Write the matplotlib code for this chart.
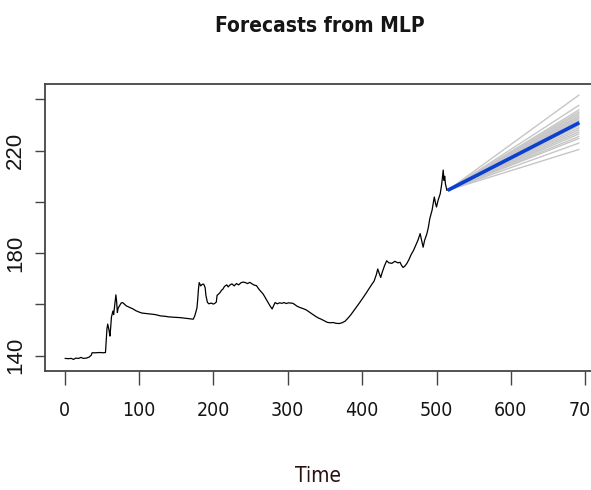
import numpy as np
import matplotlib
matplotlib.use("Agg")
import matplotlib.pyplot as plt
from matplotlib import font_manager

# observed series (time index, value)
obs_t = [1, 5, 9, 12, 15, 19, 22, 25, 29, 33, 36, 37, 42, 47, 52, 55, 56, 57, 58, 59,
         60, 61, 62, 63, 65, 66, 67, 68, 69, 70, 71, 72, 74, 76, 78, 80, 83, 86, 88, 92,
         96, 100, 104, 110, 116, 122, 129, 136, 140, 146, 150, 156, 162, 168, 173, 175, 177, 178, 179, 180,
         181, 183, 185, 187, 189, 190, 192, 194, 197, 200, 202, 204, 205, 207, 209, 211, 213, 215, 218, 220,
         222, 225, 228, 231, 234, 237, 240, 243, 246, 249, 252, 255, 258, 261, 264, 267, 270, 273, 276, 279,
         281, 283, 286, 289, 292, 295, 298, 301, 304, 307, 310, 313, 317, 321, 325, 329, 333, 337, 341, 345,
         349, 353, 357, 361, 365, 369, 373, 377, 381, 385, 389, 393, 397, 401, 405, 409, 413, 416, 419, 421,
         423, 425, 427, 430, 433, 436, 440, 444, 448, 451, 453, 455, 457, 460, 463, 466, 469, 472, 475, 478,
         480, 482, 484, 487, 489, 491, 494, 496, 497, 499, 500, 502, 505, 507, 509, 510, 511, 512, 514]
obs_y = [138.9, 138.8, 138.9, 138.5, 139.0, 138.9, 139.3, 138.9, 139.0, 139.4, 140.2, 141.1, 141.1, 141.2, 141.1, 141.2, 146.0, 150.5, 152.3, 151.0,
         149.5, 147.6, 151.0, 155.0, 157.4, 156.0, 158.5, 161.0, 163.7, 161.0, 156.8, 158.5, 159.5, 160.5, 160.7, 160.2, 159.4, 159.0, 158.7, 158.2,
         157.5, 157.0, 156.6, 156.4, 156.2, 156.0, 155.5, 155.3, 155.1, 155.0, 154.9, 154.8, 154.6, 154.4, 154.2, 155.5, 157.5, 158.7, 162.0, 166.0,
         168.5, 167.2, 167.8, 167.9, 166.5, 163.5, 160.8, 160.2, 160.5, 160.1, 160.4, 160.9, 163.5, 164.0, 164.6, 165.5, 166.0, 167.0, 167.6, 166.8,
         167.5, 168.0, 167.2, 168.1, 167.6, 168.4, 168.7, 168.5, 168.1, 168.6, 168.0, 167.5, 167.3, 166.0, 165.0, 164.0, 162.5, 161.0, 159.5, 158.2,
         159.5, 160.7, 160.2, 160.6, 160.4, 160.7, 160.3, 160.6, 160.5, 160.4, 159.8, 159.2, 158.7, 158.3, 157.8, 157.0, 156.2, 155.4, 154.7, 154.2,
         153.6, 153.0, 152.8, 152.9, 152.6, 152.5, 152.8, 153.4, 154.6, 156.0, 157.6, 159.2, 160.8, 162.5, 164.2, 166.0, 167.8, 169.0, 171.5, 173.8,
         172.0, 170.5, 172.5, 175.0, 177.0, 176.2, 176.0, 176.8, 176.2, 176.4, 175.2, 174.4, 174.8, 175.9, 177.5, 179.5, 181.0, 183.0, 185.0, 187.6,
         185.0, 182.3, 185.0, 187.5, 190.0, 193.5, 196.7, 200.0, 201.9, 199.0, 198.0, 200.5, 203.2, 207.0, 212.4, 208.4, 210.0, 207.0, 204.5]

# forecast horizon and ensemble member end values
fc_t = [515, 692]
fc_start = 204.5
member_end = [241.8, 237.8, 236.0, 235.2, 234.5, 233.8, 233.2, 232.6, 232.0, 231.5,
              230.5, 229.8, 229.0, 228.2, 227.4, 226.6, 225.6, 224.8, 223.0, 220.5]
mean_end = 230.9

x_ticks = [0, 100, 200, 300, 400, 500, 600, 700]
y_ticks = [140, 160, 180, 200, 220, 240]
y_labels = ['140', '', '180', '', '220', '']

# pick a condensed sans if one is installed, else plain Liberation Sans a bit smaller
cond = [f for f in font_manager.fontManager.ttflist
        if f.stretch in ('condensed', 'semi-condensed', 'extra-condensed', 'narrow')
        or 'Narrow' in f.name or 'Condensed' in f.name]
if cond:
    nar = dict(family=cond[0].name, fontstretch=cond[0].stretch)
    shrink = 0
else:
    nar = dict(family=['Liberation Sans', 'DejaVu Sans'])
    shrink = 1.5
regular = ['Liberation Sans', 'DejaVu Sans']
ink = '#151515'

fig = plt.figure(figsize=(5.91, 4.90), dpi=100)
ax = fig.add_axes([44.7 / 591, (490 - 370.7) / 490, 556 / 591, (370.7 - 84) / 490])

# ensemble members in grey, mean forecast in blue
for e in member_end:
    ax.plot(fc_t, [fc_start, e], color='#c6c6c6', lw=1.0, solid_capstyle='butt')
ax.plot(fc_t, [fc_start, mean_end], color='#0b3fd0', lw=2.6, solid_capstyle='butt')
ax.plot(obs_t, obs_y, color='black', lw=0.9)

ax.set_xlim(-26.7, 720.7)
ax.set_ylim(134.1, 246.0)

ax.set_xticks(x_ticks)
ax.set_xticklabels([str(v) for v in x_ticks], fontsize=14 - shrink, color=ink, **nar)
ax.set_yticks(y_ticks)
ax.set_yticklabels(y_labels, family=regular, fontsize=16, color=ink,
                   rotation=90, va='center')

ax.tick_params(axis='x', length=10, width=1.0, color='#444444', pad=12)
ax.tick_params(axis='y', length=7.2, width=1.0, color='#444444', pad=6)
for s in ax.spines.values():
    s.set_color('#444444')
    s.set_linewidth(1.3)

fig.text(320 / 591, (490 - 32) / 490, 'Forecasts from MLP', ha='center', va='baseline',
         fontweight='bold', fontsize=15 - shrink, color=ink, **nar)
fig.text(318 / 591, (490 - 482) / 490, 'Time', ha='center', va='baseline',
         fontsize=15 - shrink, color='#2a1010', **nar)

fig.savefig('out.png', dpi=100)
